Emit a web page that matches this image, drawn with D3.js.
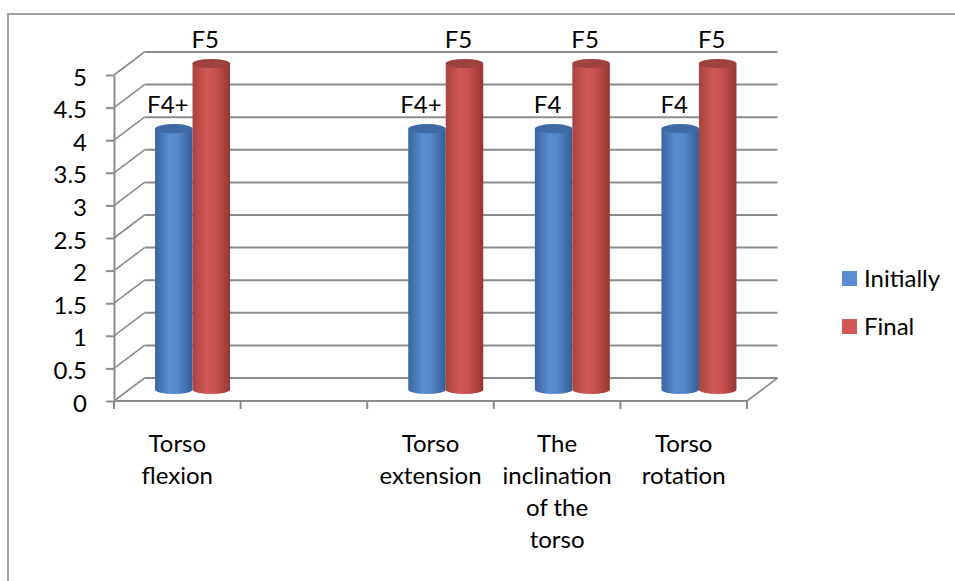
<!DOCTYPE html>
<html>
<head>
<meta charset="utf-8">
<script src="https://cdn.jsdelivr.net/npm/d3@7"></script>
<style>
  html, body { margin: 0; padding: 0; background: #fff; }
  svg { display: block; font-family: Lato, "Open Sans", sans-serif; }
</style>
</head>
<body>
<div id="chart"></div>
<script>
var categories = ["Torso flexion", "", "Torso extension", "The inclination of the torso", "Torso rotation"];
var seriesNames = ["Initially", "Final"];
var initially = [4, null, 4, 4, 4];
var final = [5, null, 5, 5, 5];
var initiallyLabels = ["F4+", "", "F4+", "F4", "F4"];
var finalLabels = ["F5", "", "F5", "F5", "F5"];
var yTicks = [0, 0.5, 1, 1.5, 2, 2.5, 3, 3.5, 4, 4.5, 5];

var width = 955, height = 581;
var depthX = 30.5, depthY = -23;   // offset of the back wall
var gridColor = "#8c8c8c";

var svg = d3.select("#chart").append("svg")
  .attr("width", width)
  .attr("height", height);

// outer chart border (bottom/right fall outside the picture)
svg.append("rect")
  .attr("x", 8).attr("y", 14)
  .attr("width", 1000).attr("height", 700)
  .attr("fill", "none")
  .attr("stroke", "#a0a0a0")
  .attr("stroke-width", 2);

var x = d3.scaleBand().domain(categories).range([114, 747]);
var y = d3.scaleLinear().domain([0, 5]).range([401, 75]);
var sub = d3.scaleBand().domain(seriesNames).range([-37.5, 37.5]);

// gradients for the cylinders
var defs = svg.append("defs");
var looks = {
  "Initially": { stops: ["#3a659f", "#5a8dd2", "#5588cc", "#345d94"], top: "#3f6aa3" },
  "Final": { stops: ["#a9433f", "#d15856", "#c9514f", "#953734"], top: "#9e4240" }
};
seriesNames.forEach(function(s, i) {
  var g = defs.append("linearGradient").attr("id", "grad" + i)
    .attr("x1", "0%").attr("x2", "100%").attr("y1", "0%").attr("y2", "0%");
  [0, 38, 60, 100].forEach(function(off, j) {
    g.append("stop").attr("offset", off + "%").attr("stop-color", looks[s].stops[j]);
  });
});

// back wall gridlines and left wall diagonals
var grid = svg.append("g");
yTicks.forEach(function(t) {
  var yy = y(t);
  grid.append("line")
    .attr("x1", x.range()[0] + depthX).attr("x2", x.range()[1] + depthX)
    .attr("y1", yy + depthY).attr("y2", yy + depthY)
    .attr("stroke", gridColor).attr("stroke-width", 2);
  grid.append("line")
    .attr("x1", x.range()[0]).attr("x2", x.range()[0] + depthX)
    .attr("y1", yy).attr("y2", yy + depthY)
    .attr("stroke", gridColor).attr("stroke-width", 1.6);
});
// right edge of the floor
grid.append("line")
  .attr("x1", x.range()[1]).attr("x2", x.range()[1] + depthX)
  .attr("y1", y(0)).attr("y2", y(0) + depthY)
  .attr("stroke", gridColor).attr("stroke-width", 1.6);

// y axis
var yAxis = svg.append("g")
  .attr("transform", "translate(" + x.range()[0] + ",0)")
  .call(d3.axisLeft(y).tickValues(yTicks).tickSize(8).tickSizeOuter(0).tickPadding(19)
    .tickFormat(d3.format("~g")));
yAxis.select(".domain").attr("stroke", gridColor).attr("stroke-width", 2);
yAxis.selectAll(".tick line").attr("stroke", gridColor).attr("stroke-width", 2);
yAxis.selectAll(".tick text")
  .attr("dy", "0.42em")
  .attr("fill", "#000")
  .style("font-size", "24px")
  .style("font-family", "Lato, sans-serif");

// x axis: floor front edge and ticks at band boundaries
var xAxis = svg.append("g");
xAxis.append("line")
  .attr("x1", x.range()[0]).attr("x2", x.range()[1])
  .attr("y1", y(0)).attr("y2", y(0))
  .attr("stroke", gridColor).attr("stroke-width", 2);
var bounds = categories.map(function(c) { return x(c); }).concat([x.range()[1]]);
xAxis.selectAll(".xtick").data(bounds).enter().append("line")
  .attr("x1", function(d) { return d; }).attr("x2", function(d) { return d; })
  .attr("y1", y(0)).attr("y2", y(0) + 8)
  .attr("stroke", gridColor).attr("stroke-width", 2);

// category labels, wrapped to the band width
categories.forEach(function(c) {
  if (!c) return;
  var t = svg.append("text")
    .attr("text-anchor", "middle")
    .attr("fill", "#000")
    .style("font-size", "24px");
  var cx = x(c) + x.bandwidth() / 2;
  var words = c.split(" "), lines = [], line = [];
  var probe = svg.append("text").style("font-size", "24px");
  words.forEach(function(w) {
    var test = line.concat([w]).join(" ");
    probe.text(test);
    if (line.length && probe.node().getComputedTextLength() > 112) {
      lines.push(line.join(" "));
      line = [w];
    } else {
      line.push(w);
    }
  });
  lines.push(line.join(" "));
  probe.remove();
  lines.forEach(function(l, i) {
    t.append("tspan").attr("x", cx).attr("y", y(0) + 51 + i * 32).text(l);
  });
});

// cylinders
var rx = sub.bandwidth() / 2, ry = 4.6;
var seriesData = [
  { name: "Initially", values: initially, labels: initiallyLabels },
  { name: "Final", values: final, labels: finalLabels }
];
seriesData.forEach(function(s, si) {
  var g = svg.append("g");
  s.values.forEach(function(v, i) {
    if (v == null) return;
    var c = categories[i];
    var cx = x(c) + x.bandwidth() / 2 + depthX / 2 + sub(s.name) + rx;
    var topY = y(v) + depthY / 2;
    var botY = y(0) + depthY / 2;
    g.append("path")
      .attr("d", "M" + (cx - rx) + "," + topY +
        "L" + (cx - rx) + "," + botY +
        "A" + rx + "," + ry + " 0 0 0 " + (cx + rx) + "," + botY +
        "L" + (cx + rx) + "," + topY + "Z")
      .attr("fill", "url(#grad" + si + ")");
    g.append("ellipse")
      .attr("cx", cx).attr("cy", topY)
      .attr("rx", rx).attr("ry", ry)
      .attr("fill", looks[s.name].top);
    g.append("text")
      .attr("x", cx - 6).attr("y", topY - 15.5)
      .attr("text-anchor", "middle")
      .attr("fill", "#000")
      .style("font-size", "24px")
      .text(s.labels[i]);
  });
});

// legend
var legend = svg.append("g");
seriesNames.forEach(function(s, i) {
  var ly = 271 + i * 48;
  legend.append("rect")
    .attr("x", 842).attr("y", ly)
    .attr("width", 15).attr("height", 15)
    .attr("fill", looks[s].stops[1]);
  legend.append("text")
    .attr("x", 864).attr("y", ly + 16)
    .attr("fill", "#000")
    .style("font-size", "24px")
    .text(s);
});
</script>
</body>
</html>
